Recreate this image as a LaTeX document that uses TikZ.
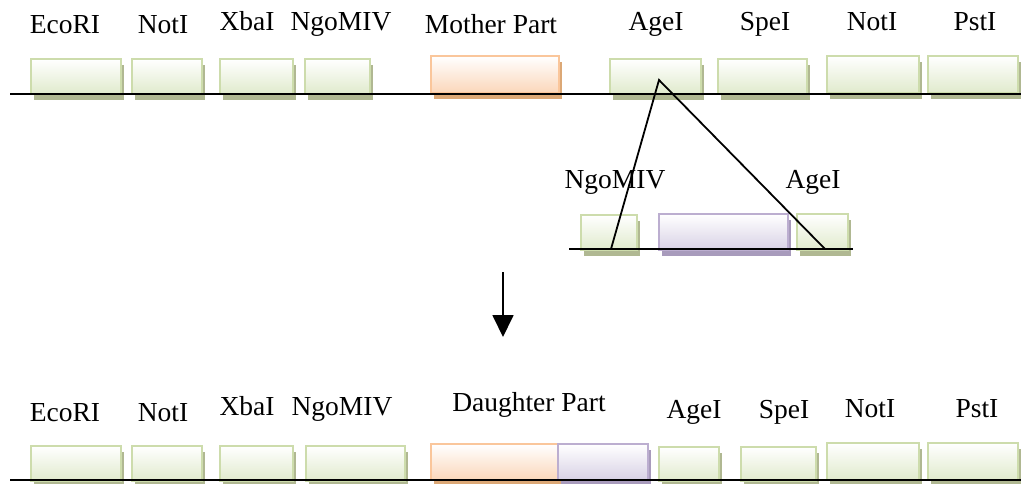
\documentclass[tikz,border=0pt]{standalone}
\usepackage{fontspec}
\setmainfont{Liberation Serif}
\usetikzlibrary{shadows,arrows.meta}
\definecolor{gborder}{RGB}{205,220,172}
\definecolor{gfill}{RGB}{224,234,204}
\definecolor{gshadow}{RGB}{176,184,146}
\definecolor{oborder}{RGB}{250,198,155}
\definecolor{ofill}{RGB}{251,214,185}
\definecolor{oshadow}{RGB}{220,168,118}
\definecolor{pborder}{RGB}{188,174,208}
\definecolor{pfill}{RGB}{216,209,229}
\definecolor{pshadow}{RGB}{168,155,188}
\tikzset{
  part/.style={rectangle, anchor=north west, inner sep=0pt, line width=2.4pt},
  gbox/.style={part, draw=gborder, top color=white, bottom color=gfill,
    general shadow={shadow xshift=3pt, shadow yshift=-6pt, fill=gshadow}},
  obox/.style={part, draw=oborder, top color=white, bottom color=ofill,
    general shadow={shadow xshift=3pt, shadow yshift=-6pt, fill=oshadow}},
  pbox/.style={part, draw=pborder, top color=white, bottom color=pfill,
    general shadow={shadow xshift=3pt, shadow yshift=-6pt, fill=pshadow}},
  lbl/.style={anchor=base, inner sep=0pt, font=\fontsize{27.5}{30}\selectfont},
  dna/.style={line width=2pt, black},
  cut/.style={line width=1.8pt, black},
}
\newcommand{\pbx}[6]{\node[#1, minimum width=#4pt, minimum height=#5pt] (#6) at (#2,#3) {};}
\begin{document}
\begin{tikzpicture}[x=1pt,y=-1pt]
\useasboundingbox (0,0) rectangle (1021,483);
% ---------- top row ----------
\pbx{gbox}{30}{58}{90}{35}{t1}
\pbx{gbox}{131}{58}{70}{35}{t2}
\pbx{gbox}{219}{58}{73}{35}{t3}
\pbx{gbox}{304}{58}{65}{35}{t4}
\pbx{obox}{430}{55}{128}{37}{t5}
\pbx{gbox}{609}{58}{91}{35}{t6}
\pbx{gbox}{717}{58}{89}{35}{t7}
\pbx{gbox}{826}{55}{92}{37}{t8}
\pbx{gbox}{927}{55}{90}{37}{t9}
\coordinate (tl0) at (10,93.5);
\coordinate (tl1) at (1021,93.5);
\draw[dna] (tl0) -- (tl1);
\node[lbl] (tL1) at (65,33) {EcoRI};
\node[lbl] (tL2) at (163,33) {NotI};
\node[lbl] (tL3) at (247,30.5) {XbaI};
\node[lbl] (tL4) at (341,30.5) {NgoMIV};
\node[lbl] (tL5) at (491,33) {Mother Part};
\node[lbl] (tL6) at (656,30) {AgeI};
\node[lbl] (tL7) at (765,30) {SpeI};
\node[lbl] (tL8) at (872,30) {NotI};
\node[lbl] (tL9) at (975,30) {PstI};
% ---------- middle row ----------
\pbx{gbox}{580}{214}{56}{35}{m1}
\pbx{pbox}{658}{213}{129}{36}{m2}
\pbx{gbox}{796}{213}{51}{36}{m3}
\coordinate (ml0) at (569,249);
\coordinate (ml1) at (853,249);
\draw[dna] (ml0) -- (ml1);
\node[lbl] (mL1) at (615,188) {NgoMIV};
\node[lbl] (mL2) at (813,188) {AgeI};
\coordinate (apex) at (659,80);
\coordinate (cA) at (611,249);
\coordinate (cB) at (825,249);
\draw[cut] (cA) -- (apex) -- (cB);
% ---------- arrow ----------
\coordinate (arS) at (503,272);
\coordinate (arE) at (503,337);
\draw[line width=1.8pt, -{Triangle[width=21pt,length=22pt]}] (arS) -- (arE);
% ---------- bottom row ----------
\pbx{gbox}{30}{445}{90}{35}{b1}
\pbx{gbox}{131}{445}{70}{35}{b2}
\pbx{gbox}{219}{445}{73}{35}{b3}
\pbx{gbox}{305}{445}{99}{35}{b4}
\pbx{obox}{430}{443}{127}{36}{b5}
\pbx{pbox}{557}{443}{90}{36}{b6}
\pbx{gbox}{658}{446}{60}{34}{b7}
\pbx{gbox}{740}{446}{75}{34}{b8}
\pbx{gbox}{826}{442}{92}{37}{b9}
\pbx{gbox}{927}{442}{90}{37}{b10}
\coordinate (bl0) at (10,480);
\coordinate (bl1) at (1021,480);
\draw[dna] (bl0) -- (bl1);
\node[lbl] (bL1) at (65,421) {EcoRI};
\node[lbl] (bL2) at (163,421) {NotI};
\node[lbl] (bL3) at (247,415) {XbaI};
\node[lbl] (bL4) at (342,415) {NgoMIV};
\node[lbl] (bL5) at (529,411) {Daughter Part};
\node[lbl] (bL6) at (694,418) {AgeI};
\node[lbl] (bL7) at (784,418) {SpeI};
\node[lbl] (bL8) at (870,417) {NotI};
\node[lbl] (bL9) at (977,417) {PstI};
\end{tikzpicture}
\end{document}
